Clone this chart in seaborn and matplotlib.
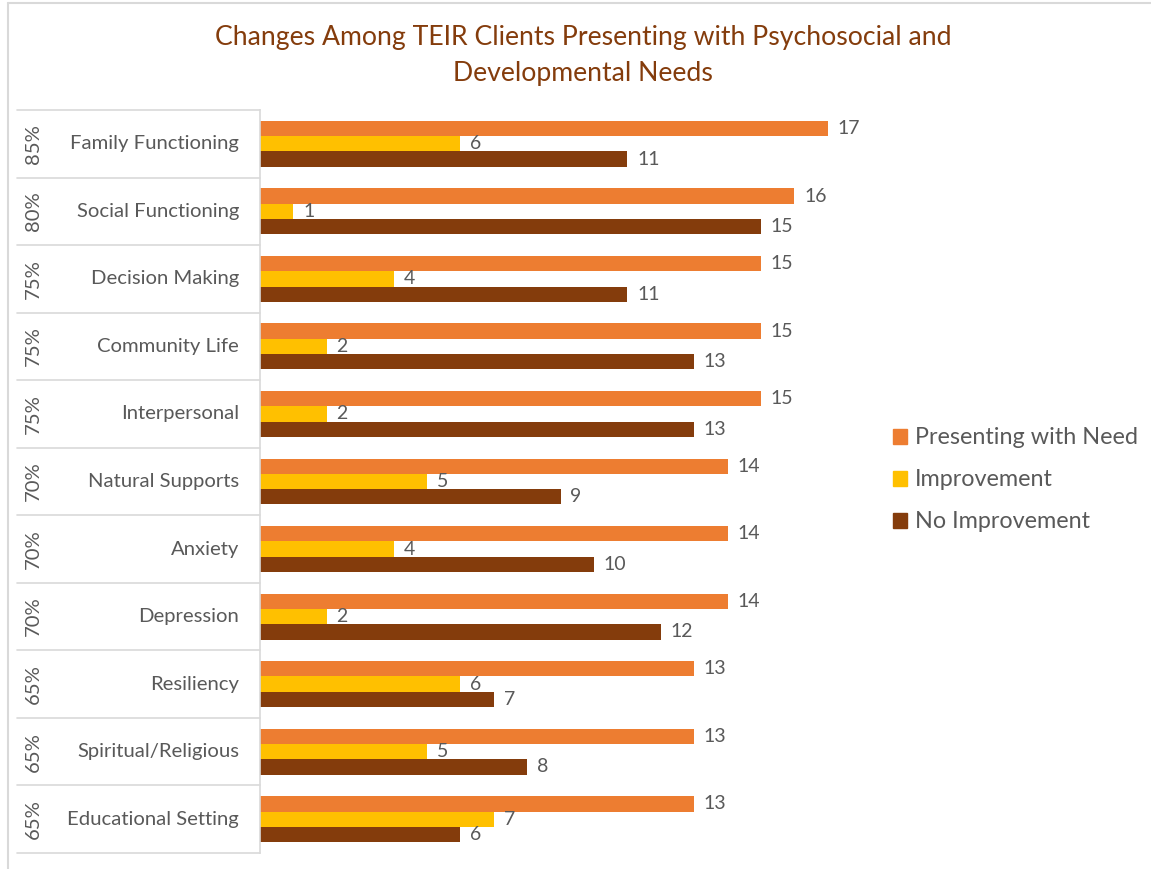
import matplotlib
matplotlib.use("Agg")
import matplotlib.pyplot as plt
import matplotlib.transforms as mtransforms
from matplotlib.lines import Line2D
import seaborn as sns
import pandas as pd

categories = ["Family Functioning", "Social Functioning", "Decision Making",
              "Community Life", "Interpersonal", "Natural Supports", "Anxiety",
              "Depression", "Resiliency", "Spiritual/Religious", "Educational Setting"]
percents = ["85%", "80%", "75%", "75%", "75%", "70%", "70%", "70%", "65%", "65%", "65%"]
presenting = [17, 16, 15, 15, 15, 14, 14, 14, 13, 13, 13]
improvement = [6, 1, 4, 2, 2, 5, 4, 2, 6, 5, 7]
no_improvement = [11, 15, 11, 13, 13, 9, 10, 12, 7, 8, 6]
series_names = ["Presenting with Need", "Improvement", "No Improvement"]
colors = ["#ED7D31", "#FFC000", "#843C0C"]

rows = []
for i, c in enumerate(categories):
    for s, vals in zip(series_names, [presenting, improvement, no_improvement]):
        rows.append({"Category": c, "Series": s, "Value": vals[i]})
df = pd.DataFrame(rows)

sns.set_theme(style="white")
plt.rcParams["font.family"] = ["Lato", "DejaVu Sans"]
TEXT = "#595959"
GRID = "#D9D9D9"

W, H = 1151, 869
fig = plt.figure(figsize=(W / 100, H / 100), dpi=100)
left_px, right_px, top_px, bot_px = 260, 863, 110, 853
ax = fig.add_axes([left_px / W, 1 - bot_px / H, (right_px - left_px) / W, (bot_px - top_px) / H])

sns.barplot(data=df, y="Category", x="Value", hue="Series", order=categories,
            hue_order=series_names, palette=colors, orient="h", width=0.68,
            saturation=1, linewidth=0, ax=ax, legend=False)

ax.set_xlim(0, (right_px - left_px) / 33.4)
ax.set_ylim(len(categories) - 0.5, -0.5)
ax.set_xlabel("")
ax.set_ylabel("")
ax.set_xticks([])
ax.set_yticks([])
for sp in ["top", "right", "bottom"]:
    ax.spines[sp].set_visible(False)
ax.spines["left"].set_color(GRID)
ax.spines["left"].set_linewidth(1.2)

for cont in ax.containers:
    ax.bar_label(cont, padding=7, fontsize=14, color=TEXT)

# multi-level category axis
trans = mtransforms.blended_transform_factory(ax.transAxes, ax.transData)
axw = right_px - left_px
x0 = (17 - left_px) / axw
for k in range(len(categories) + 1):
    ax.add_line(Line2D([x0, 0], [k - 0.5, k - 0.5], transform=trans, color=GRID,
                       lw=1.2, clip_on=False))
for i, (c, p) in enumerate(zip(categories, percents)):
    ax.text((239 - left_px) / axw, i, c, transform=trans, ha="right", va="center",
            fontsize=14.6, color=TEXT)
    ax.text((33 - left_px) / axw, i, p, transform=trans, ha="center", va="center",
            rotation=90, fontsize=14.6, color=TEXT)

# outer border (top and left visible)
fig.add_artist(Line2D([8 / W, 1], [1 - 3 / H, 1 - 3 / H], transform=fig.transFigure,
                      color=GRID, lw=1.5))
fig.add_artist(Line2D([8 / W, 8 / W], [0, 1 - 3 / H], transform=fig.transFigure,
                      color=GRID, lw=1.5))

fig.text(583 / W, 1 - 38 / H, "Changes Among TEIR Clients Presenting with Psychosocial and",
         ha="center", va="center", fontsize=19.2, color="#843C0C")
fig.text(583 / W, 1 - 73 / H, "Developmental Needs",
         ha="center", va="center", fontsize=19.2, color="#843C0C")

handles = [plt.Rectangle((0, 0), 1, 1, color=c) for c in colors]
fig.legend(handles, series_names, loc="center left",
           bbox_to_anchor=(893 / W, 1 - 480 / H), frameon=False, fontsize=16.8,
           labelcolor=TEXT, handlelength=0.6, handleheight=0.6, handletextpad=0.35,
           labelspacing=0.9, borderaxespad=0, borderpad=0)

fig.savefig("out.png", dpi=100, facecolor="white")
